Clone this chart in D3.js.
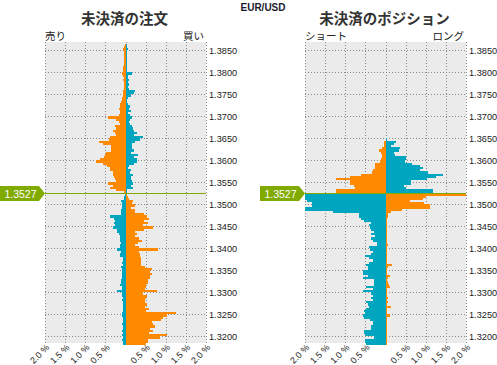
<!DOCTYPE html>
<html><head><meta charset="utf-8">
<script src="https://cdn.jsdelivr.net/npm/d3@7"></script>
<style>body{margin:0;background:#fff}svg{display:block}</style>
</head><body><svg id="c" width="497" height="365"></svg>
<script>
const pairName = "EUR/USD";
const currentPrice = 1.3527;
const bucketSize = 0.0005;
// lower bound of each price bucket (category)
const bucketLow = [
1.3860,1.3855,1.3850,1.3845,1.3840,1.3835,1.3830,1.3825,1.3820,1.3815,
1.3810,1.3805,1.3800,1.3795,1.3790,1.3785,1.3780,1.3775,1.3770,1.3765,
1.3760,1.3755,1.3750,1.3745,1.3740,1.3735,1.3730,1.3725,1.3720,1.3715,
1.3710,1.3705,1.3700,1.3695,1.3690,1.3685,1.3680,1.3675,1.3670,1.3665,
1.3660,1.3655,1.3650,1.3645,1.3640,1.3635,1.3630,1.3625,1.3620,1.3615,
1.3610,1.3605,1.3600,1.3595,1.3590,1.3585,1.3580,1.3575,1.3570,1.3565,
1.3560,1.3555,1.3550,1.3545,1.3540,1.3535,1.3530,1.3525,1.3520,1.3515,
1.3510,1.3505,1.3500,1.3495,1.3490,1.3485,1.3480,1.3475,1.3470,1.3465,
1.3460,1.3455,1.3450,1.3445,1.3440,1.3435,1.3430,1.3425,1.3420,1.3415,
1.3410,1.3405,1.3400,1.3395,1.3390,1.3385,1.3380,1.3375,1.3370,1.3365,
1.3360,1.3355,1.3350,1.3345,1.3340,1.3335,1.3330,1.3325,1.3320,1.3315,
1.3310,1.3305,1.3300,1.3295,1.3290,1.3285,1.3280,1.3275,1.3270,1.3265,
1.3260,1.3255,1.3250,1.3245,1.3240,1.3235,1.3230,1.3225,1.3220,1.3215,
1.3210,1.3205,1.3200,1.3195,1.3190,1.3185,1.3180];

// Open orders (%): sell side (left) and buy side (right)
const orderSell = [
0.01,0.04,0.05,0.04,
0.04,0.04,0.03,0.04,0.04,0.04,0.05,0.05,0.06,
0.09,0.05,0.03,0.07,0.04,0.04,0.04,0.04,0.05,0.06,
0.07,0.08,0.09,0.11,0.13,0.14,0.17,0.13,0.13,0.16,
0.44,0.24,0.16,0.13,0.26,0.23,0.32,0.27,0.23,0.38,
0.42,0.67,0.57,0.37,0.37,0.37,0.48,0.51,0.54,0.63,
0.74,0.56,0.45,0.39,0.39,0.30,0.32,0.29,0.26,0.24,
0.44,0.31,0.39,0.24,0.03,
0.01,0.03,0.04,0.12,0.09,
0.09,0.08,0.12,0.12,0.10,0.39,0.28,0.26,0.29,0.25,
0.32,0.22,0.22,0.17,0.14,0.14,0.13,0.12,0.14,0.14,
0.22,0.10,0.13,0.14,0.06,0.06,0.08,0.06,0.12,0.09,
0.08,0.09,0.08,0.09,0.10,0.10,0.14,0.09,0.08,0.22,
0.09,0.08,0.06,0.08,0.07,0.06,0.06,0.07,0.06,0.09,
0.09,0.06,0.07,0.07,0.08,0.07,0.06,0.08,0.07,0.08,
0.07,0.08,0.06,0.06];
const orderBuy = [
0.03,0.04,0.05,0.03,
0.02,0.03,0.03,0.03,0.03,0.02,0.03,0.03,0.03,
0.16,0.07,0.05,0.08,0.07,0.08,0.06,0.08,0.23,0.22,
0.13,0.05,0.03,0.03,0.07,0.10,0.08,0.13,0.06,0.10,
0.16,0.10,0.08,0.11,0.17,0.19,0.21,0.29,0.22,0.44,
0.36,0.23,0.16,0.16,0.16,0.21,0.13,0.31,0.22,0.29,
0.28,0.21,0.08,0.07,0.13,0.11,0.18,0.13,0.13,0.15,
0.19,0.14,0.18,0.03,0.01,
0.03,0.05,0.08,0.18,0.17,
0.23,0.13,0.23,0.23,0.45,0.53,0.58,0.47,0.55,0.43,
0.68,0.47,0.24,0.28,0.23,0.34,0.41,0.30,0.23,0.34,
0.81,0.33,0.37,0.35,0.38,0.38,0.38,0.38,0.48,0.66,
0.62,0.66,0.61,0.60,0.56,0.56,0.51,0.51,0.48,0.78,
0.43,0.54,0.50,0.48,0.48,0.53,0.48,0.58,0.50,1.25,
1.03,0.92,0.88,0.65,0.68,0.73,0.61,0.68,0.58,1.03,
0.85,0.55,0.56,0.50];

// Open positions (%): short (left) and long (right)
const posShort = [
0,0,0,0,0,0,0,0,0,0, 0,0,0,0,0,0,0,0,0,0,
0,0,0,0,0,0,0,0,0,0, 0,0,0,0,0,0,0,0,0,0, 0,0,0,
0.00,0.03,0.03,0.03,0.08,0.17,0.10,0.08,0.08,0.12,
0.14,0.25,0.25,0.25,0.32,0.33,0.62,0.87,1.22,0.87,
0.87,0.79,0.75,1.24,1.24,
2.50,2.50,2.50,1.95,1.83,1.83,2.50,2.50,1.30,0.67,0.67,
0.60,0.53,0.36,0.40,0.38,0.36,0.29,0.36,0.25,0.36,
0.30,0.21,0.21,0.40,0.38,0.32,0.36,0.50,0.40,0.30,
0.40,0.48,0.44,0.44,0.57,0.57,0.44,0.57,0.28,0.28,
0.28,0.48,0.31,0.57,0.36,0.32,0.36,0.32,0.48,0.44,
0.40,0.48,0.54,0.50,0.57,0.53,0.38,0.32,0.32,0.36,
0.36,0.54,0.54,0.50,0.28,0.50,0.50,0.48];
const posLong = [
0,0,0,0,0,0,0,0,0,0, 0,0,0,0,0,0,0,0,0,0,
0,0,0,0,0,0,0,0,0,0, 0,0,0,0,0,0,0,0,0,0, 0,0,0,
0.03,0.25,0.20,0.13,0.36,0.34,0.22,0.23,0.52,0.52,
0.48,0.65,0.86,0.92,0.86,1.05,1.42,1.26,1.03,0.63,
0.63,0.47,0.52,1.17,1.17,
2.50,1.00,0.93,0.62,0.95,1.10,1.10,0.40,0.13,0.05,0.05,
0.04,0.02,0.02,0.04,0.02,0.02,0.02,0.02,0.02,0.02,
0.02,0.02,0.05,0.03,0.02,0.02,0.02,0.02,0.02,0.02,
0.03,0.17,0.06,0.02,0.02,0.02,0.12,0.06,0.02,0.05,
0.08,0.10,0.03,0.03,0.02,0.02,0.07,0.02,0.07,0.02,
0.13,0.03,0.02,0.02,0.10,0.03,0.02,0.03,0.02,0.04,
0.03,0.02,0.02,0.03,0.02,0.02,0.02,0.02];

const priceTicks = [1.3850,1.3800,1.3750,1.3700,1.3650,1.3600,1.3550,1.3500,1.3450,1.3400,1.3350,1.3300,1.3250,1.3200];
const pctTicks = [-2,-1.5,-1,-0.5,0,0.5,1,1.5,2];
const pctLabels = ["2.0 %","1.5 %","1.0 %","0.5 %","","0.5 %","1.0 %","1.5 %","2.0 %"];

const ORANGE = "#ff8a00", TEAL = "#00a6c0", GREEN = "#80aa00";
const svg = d3.select("#c");
const plotTop = 42, plotBottom = 343;
const y = d3.scaleLinear().domain([currentPrice - 0.0342, currentPrice + 0.0342]).range([plotBottom, plotTop]);

svg.append("text").attr("x", 263).attr("y", 11).attr("text-anchor","middle")
  .attr("font-family","Liberation Sans, Arial, sans-serif").attr("font-weight","bold")
  .attr("font-size",10).attr("fill","#1a1a2e").text(pairName);

const panels = [
  {x0:45, x1:206, L:orderSell, R:orderBuy, title:"未決済の注文", ll:"売り", rl:"買い", boxX:0},
  {x0:305, x1:466, L:posShort, R:posLong, title:"未決済のポジション", ll:"ショート", rl:"ロング", boxX:260}
];

panels.forEach(p => {
  const x = d3.scaleLinear().domain([-2,2]).range([p.x0,p.x1]).clamp(true);
  const g = svg.append("g");
  g.append("rect").attr("x",p.x0).attr("y",plotTop).attr("width",p.x1-p.x0).attr("height",plotBottom-plotTop).attr("fill","#ebebeb");
  // grid
  g.selectAll(".vg").data(pctTicks).join("line")
    .attr("x1",d=>Math.round(x(d))+0.5).attr("x2",d=>Math.round(x(d))+0.5)
    .attr("y1",plotTop).attr("y2",plotBottom)
    .attr("stroke","#8a8a8a").attr("stroke-dasharray","1,2");
  g.selectAll(".hg").data(priceTicks).join("line")
    .attr("x1",p.x0).attr("x2",p.x1+1)
    .attr("y1",d=>Math.round(y(d))+0.5).attr("y2",d=>Math.round(y(d))+0.5)
    .attr("stroke","#8a8a8a").attr("stroke-dasharray","1,2");
  // bars
  const cx = Math.round(x(0));
  const rows = bucketLow.map((b,i)=>({b, l:p.L[i], r:p.R[i], above: b + bucketSize > currentPrice}));
  const yt = d => Math.round(y(d.b + bucketSize)), yb = d => Math.round(y(d.b));
  g.selectAll(".lb").data(rows.filter(d=>d.l>0)).join("rect")
    .attr("x",d=>Math.round(x(-d.l))).attr("width",d=>Math.max(1,cx-Math.round(x(-d.l))))
    .attr("y",yt).attr("height",d=>yb(d)-yt(d))
    .attr("fill",d=>d.above?ORANGE:TEAL).attr("shape-rendering","crispEdges");
  g.selectAll(".rb").data(rows.filter(d=>d.r>0)).join("rect")
    .attr("x",cx).attr("width",d=>Math.max(1,Math.round(x(d.r))-cx))
    .attr("y",yt).attr("height",d=>yb(d)-yt(d))
    .attr("fill",d=>d.above?TEAL:ORANGE).attr("shape-rendering","crispEdges");
  // price line
  const py = Math.round(y(currentPrice))+0.5;
  g.append("line").attr("x1",p.x0).attr("x2",p.x1).attr("y1",py).attr("y2",py)
    .attr("stroke",GREEN).attr("stroke-width",1);
  // price tag
  const bx = p.boxX, bw = 39, tip = p.x0;
  g.append("path").attr("d",`M${bx},${py-7.5}H${bx+bw}L${tip},${py}L${bx+bw},${py+7.5}H${bx}Z`).attr("fill",GREEN);
  g.append("text").attr("x",bx+bw/2+1).attr("y",py+4).attr("text-anchor","middle")
    .attr("font-family","Liberation Sans, Arial, sans-serif").attr("font-size",10.5).attr("fill","#fff").text(currentPrice.toFixed(4));
  // y labels
  g.selectAll(".yl").data(priceTicks).join("text")
    .attr("x",p.x1+3).attr("y",d=>y(d)+3.3)
    .attr("font-family","Liberation Sans, Arial, sans-serif").attr("font-size",9.2).attr("fill","#222")
    .text(d=>d.toFixed(4));
  // x labels
  g.selectAll(".xl").data(pctTicks).join("text")
    .attr("transform",d=>`translate(${x(d)+5},${plotBottom+5}) rotate(-45)`)
    .attr("text-anchor","end")
    .attr("font-family","Liberation Sans, Arial, sans-serif").attr("font-size",9).attr("fill","#222")
    .text((d,i)=>pctLabels[i]);
  // titles
  g.append("text").attr("x",(p.x0+p.x1)/2-1).attr("y",24).attr("text-anchor","middle")
    .attr("font-family","Noto Sans CJK JP, sans-serif").attr("font-weight","bold").attr("font-size",14.5).attr("fill","#333").text(p.title);
  g.append("text").attr("x",p.x0).attr("y",40).attr("font-family","Noto Sans CJK JP, sans-serif")
    .attr("font-size",10.5).attr("fill","#222").text(p.ll);
  g.append("text").attr("x",p.x1-2).attr("y",40).attr("text-anchor","end").attr("font-family","Noto Sans CJK JP, sans-serif")
    .attr("font-size",10.5).attr("fill","#222").text(p.rl);
});
</script></body></html>
